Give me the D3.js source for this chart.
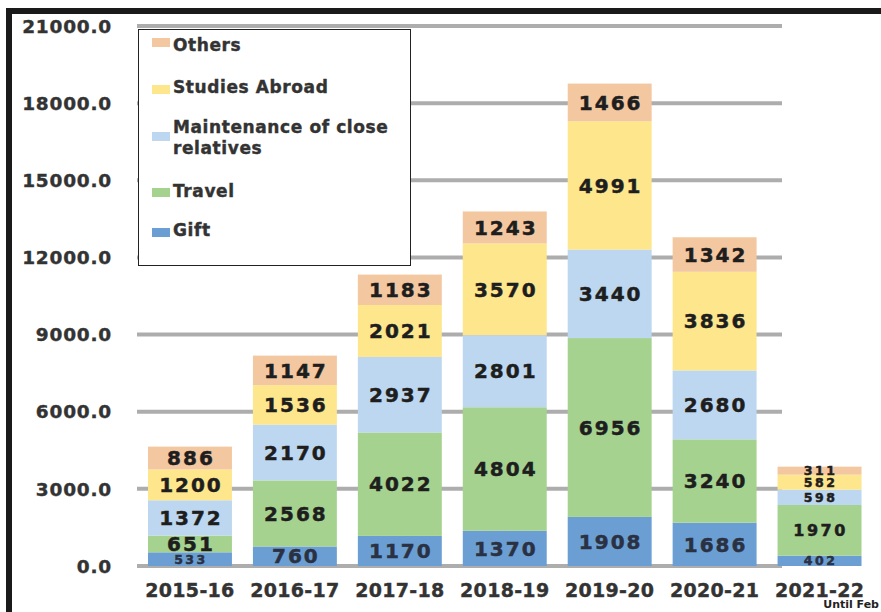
<!DOCTYPE html>
<html>
<head>
<meta charset="utf-8">
<script src="https://cdn.jsdelivr.net/npm/d3@7"></script>
<style>
  html, body { margin: 0; padding: 0; background: #fff; }
  svg { display: block; font-family: "DejaVu Sans", sans-serif; font-weight: bold; }
</style>
</head>
<body>
<div id="chart"></div>
<script>
const years = ["2015-16", "2016-17", "2017-18", "2018-19", "2019-20", "2020-21", "2021-22"];
const seriesNames = ["Gift", "Travel", "Maintenance of close relatives", "Studies Abroad", "Others"];
const gift = [533, 760, 1170, 1370, 1908, 1686, 402];
const travel = [651, 2568, 4022, 4804, 6956, 3240, 1970];
const maintenance = [1372, 2170, 2937, 2801, 3440, 2680, 598];
const studies = [1200, 1536, 2021, 3570, 4991, 3836, 582];
const others = [886, 1147, 1183, 1243, 1466, 1342, 311];
const yTicks = [0, 3000, 6000, 9000, 12000, 15000, 18000, 21000];
const colors = ["#6b9fd3", "#a6d28f", "#bcd7ef", "#fde68c", "#f3c7a0"];

const width = 881, height = 612;

const svg = d3.select("#chart")
    .append("svg")
    .attr("width", width)
    .attr("height", height);

// frame (thick black border on top and left)
svg.append("rect").attr("x", 6).attr("y", 8).attr("width", width).attr("height", 6).attr("fill", "#1a1a1a");
svg.append("rect").attr("x", 6).attr("y", 8).attr("width", 6).attr("height", height).attr("fill", "#1a1a1a");

const x = d3.scaleBand().domain(years).range([137.5, 872]).paddingInner(0.2).paddingOuter(0.1);
const y = d3.scaleLinear().domain([0, 21000]).range([566, 26]);

const table = years.map((yr, i) => ({
    year: yr,
    Gift: gift[i],
    Travel: travel[i],
    "Maintenance of close relatives": maintenance[i],
    "Studies Abroad": studies[i],
    Others: others[i]
}));
const stacked = d3.stack().keys(seriesNames)(table);

// gridlines
svg.append("g")
    .selectAll("line")
    .data(yTicks)
    .enter()
    .append("line")
    .attr("x1", 137).attr("x2", 782)
    .attr("y1", d => y(d)).attr("y2", d => y(d))
    .attr("stroke", "#adadad")
    .attr("stroke-width", 4);

// y labels
svg.append("g")
    .selectAll("text")
    .data(yTicks)
    .enter()
    .append("text")
    .attr("x", 112)
    .attr("y", d => y(d))
    .attr("dy", "0.36em")
    .attr("text-anchor", "end")
    .attr("font-size", "18.5px")
    .attr("letter-spacing", "0.8px")
    .attr("fill", "#333")
    .attr("stroke", "#333")
    .attr("stroke-width", 0.4)
    .text(d => d3.format(".1f")(d));

// bars
const layers = svg.append("g")
    .selectAll("g")
    .data(stacked)
    .enter()
    .append("g")
    .attr("fill", (d, i) => colors[i]);

layers.selectAll("rect")
    .data(d => d)
    .enter()
    .append("rect")
    .attr("x", d => x(d.data.year))
    .attr("y", d => y(d[1]))
    .attr("width", x.bandwidth())
    .attr("height", d => y(d[0]) - y(d[1]));

// value labels, smaller where the segment is thin
function labelSize(d) {
    const h = y(d[0]) - y(d[1]);
    if (d.data.year === "2021-22") return h >= 40 ? 16 : 12.5;
    return h < 15 ? 12.5 : 20;
}

stacked.forEach((layer, li) => {
    const col = li === 0 ? "#2a3142" : "#1e1e1e";
    svg.append("g")
        .selectAll("text")
        .data(layer)
        .enter()
        .append("text")
        .attr("x", d => x(d.data.year) + x.bandwidth() / 2 + 1)
        .attr("y", d => (y(d[0]) + y(d[1])) / 2)
        .attr("dy", "0.36em")
        .attr("text-anchor", "middle")
        .attr("font-size", d => labelSize(d) + "px")
        .attr("letter-spacing", d => labelSize(d) < 20 ? "2.5px" : "2px")
        .attr("fill", col)
        .attr("stroke", col)
        .attr("stroke-width", 0.5)
        .text(d => d[1] - d[0]);
});

// x labels
svg.append("g")
    .selectAll("text")
    .data(years)
    .enter()
    .append("text")
    .attr("x", d => x(d) + x.bandwidth() / 2)
    .attr("y", 597)
    .attr("text-anchor", "middle")
    .attr("font-size", "19px")
    .attr("letter-spacing", "0.3px")
    .attr("fill", "#333")
    .attr("stroke", "#333")
    .attr("stroke-width", 0.4)
    .text(d => d);

svg.append("text")
    .attr("x", 879)
    .attr("y", 608)
    .attr("text-anchor", "end")
    .attr("font-size", "11px")
    .attr("fill", "#222")
    .text("Until Feb");

// legend
const legend = svg.append("g");
legend.append("rect")
    .attr("x", 138.5).attr("y", 29.5)
    .attr("width", 272).attr("height", 236)
    .attr("fill", "#fff")
    .attr("stroke", "#222")
    .attr("stroke-width", 1);

const legendItems = [
    { name: "Others", lines: ["Others"], sy: 38, ty: [51] },
    { name: "Studies Abroad", lines: ["Studies Abroad"], sy: 85, ty: [93] },
    { name: "Maintenance of close relatives", lines: ["Maintenance of close", "relatives"], sy: 132, ty: [133, 154] },
    { name: "Travel", lines: ["Travel"], sy: 188, ty: [197] },
    { name: "Gift", lines: ["Gift"], sy: 228, ty: [236] }
];

legendItems.forEach(item => {
    const ci = seriesNames.indexOf(item.name);
    legend.append("rect")
        .attr("x", 152).attr("y", item.sy)
        .attr("width", 18).attr("height", 9)
        .attr("fill", colors[ci]);
    item.lines.forEach((ln, k) => {
        legend.append("text")
            .attr("x", 173)
            .attr("y", item.ty[k])
            .attr("font-size", "17px")
            .attr("letter-spacing", "0.6px")
            .attr("fill", "#333")
            .attr("stroke", "#333")
            .attr("stroke-width", 0.4)
            .text(ln);
    });
});
</script>
</body>
</html>
